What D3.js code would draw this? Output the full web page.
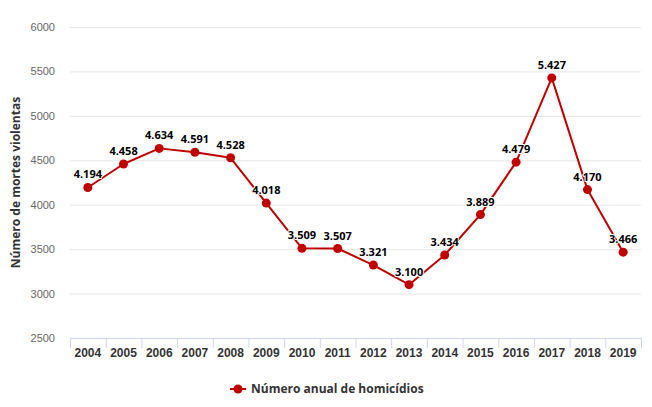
<!DOCTYPE html>
<html>
<head>
<meta charset="utf-8">
<script src="https://cdn.jsdelivr.net/npm/d3@7"></script>
<style>
  body { margin: 0; background: #fff; }
  svg { font-family: "Open Sans", "DejaVu Sans", sans-serif; display: block; }
</style>
</head>
<body>
<div id="chart"></div>
<script>
// data
var years = ['2004', '2005', '2006', '2007', '2008', '2009', '2010', '2011',
  '2012', '2013', '2014', '2015', '2016', '2017', '2018', '2019'];
var homicides = [4194, 4458, 4634, 4591, 4528, 4018, 3509, 3507,
  3321, 3100, 3434, 3889, 4479, 5427, 4170, 3466];
var yTicks = [2500, 3000, 3500, 4000, 4500, 5000, 5500, 6000];

var seriesName = 'Número anual de homicídios';
var yTitle = 'Número de mortes violentas';
var red = '#c00000';

var width = 652, height = 407;
var plot = { left: 70, right: 641, top: 27, bottom: 338 };

var svg = d3.select('#chart')
  .append('svg')
  .attr('width', width)
  .attr('height', height);

var x = d3.scaleBand()
  .domain(years)
  .range([plot.left, plot.right]);

var y = d3.scaleLinear()
  .domain([2500, 6000])
  .range([plot.bottom, plot.top]);

var fmt = d3.format(',');
function label(v) { return fmt(v).replace(/,/g, '.'); }

// gridlines + y labels
var yAxis = svg.append('g')
  .attr('transform', `translate(${plot.left},0)`)
  .call(d3.axisLeft(y).tickValues(yTicks).tickSize(-(plot.right - plot.left)).tickFormat(d3.format('d')));
yAxis.select('.domain').remove();
yAxis.selectAll('.tick line').attr('stroke', '#e6e6e6');
yAxis.selectAll('.tick text')
  .attr('x', -15)
  .attr('fill', '#666')
  .style('font-size', '11px');

// x axis
var xAxis = svg.append('g')
  .attr('transform', `translate(0,${plot.bottom})`)
  .call(d3.axisBottom(x).tickSize(0).tickPadding(10));
xAxis.select('.domain').attr('stroke', '#ccd6eb');
xAxis.selectAll('.tick text')
  .attr('fill', '#333')
  .style('font-size', '12px')
  .style('font-weight', 'bold');

// tick marks on the band edges
var edges = years.map(d => x(d)).concat([plot.right]);
xAxis.selectAll('line.edge')
  .data(edges)
  .enter()
  .append('line')
  .attr('class', 'edge')
  .attr('x1', d => d + 0.5)
  .attr('x2', d => d + 0.5)
  .attr('y1', 0)
  .attr('y2', 10)
  .attr('stroke', '#ccd6eb');

// y axis title
svg.append('text')
  .attr('transform', `translate(20,${(plot.top + plot.bottom) / 2}) rotate(-90)`)
  .attr('text-anchor', 'middle')
  .attr('fill', '#333')
  .style('font-size', '12px')
  .style('font-weight', 'bold')
  .text(yTitle);

var cx = d => x(d) + x.bandwidth() / 2;

// line
var line = d3.line()
  .x((d, i) => cx(years[i]))
  .y(d => y(d));

svg.append('path')
  .datum(homicides)
  .attr('fill', 'none')
  .attr('stroke', red)
  .attr('stroke-width', 2)
  .attr('stroke-linejoin', 'round')
  .attr('d', line);

svg.selectAll('circle.point')
  .data(homicides)
  .enter()
  .append('circle')
  .attr('class', 'point')
  .attr('cx', (d, i) => cx(years[i]))
  .attr('cy', d => y(d))
  .attr('r', 4.5)
  .attr('fill', red);

// data labels
svg.selectAll('text.dlabel')
  .data(homicides)
  .enter()
  .append('text')
  .attr('class', 'dlabel')
  .attr('x', (d, i) => cx(years[i]))
  .attr('y', d => y(d) - 9)
  .attr('text-anchor', 'middle')
  .attr('fill', '#000')
  .attr('stroke', '#fff')
  .attr('stroke-width', 2)
  .attr('stroke-linejoin', 'round')
  .attr('paint-order', 'stroke')
  .style('font-size', '11px')
  .style('font-weight', 'bold')
  .text(d => label(d));

// legend
var legend = svg.append('g')
  .attr('transform', 'translate(230,389)');
legend.append('line')
  .attr('x1', 0).attr('x2', 16)
  .attr('stroke', red)
  .attr('stroke-width', 2);
legend.append('circle')
  .attr('cx', 8)
  .attr('r', 4.5)
  .attr('fill', red);
legend.append('text')
  .attr('x', 21)
  .attr('dy', '0.35em')
  .attr('fill', '#333')
  .style('font-size', '12px')
  .style('font-weight', 'bold')
  .text(seriesName);
</script>
</body>
</html>
